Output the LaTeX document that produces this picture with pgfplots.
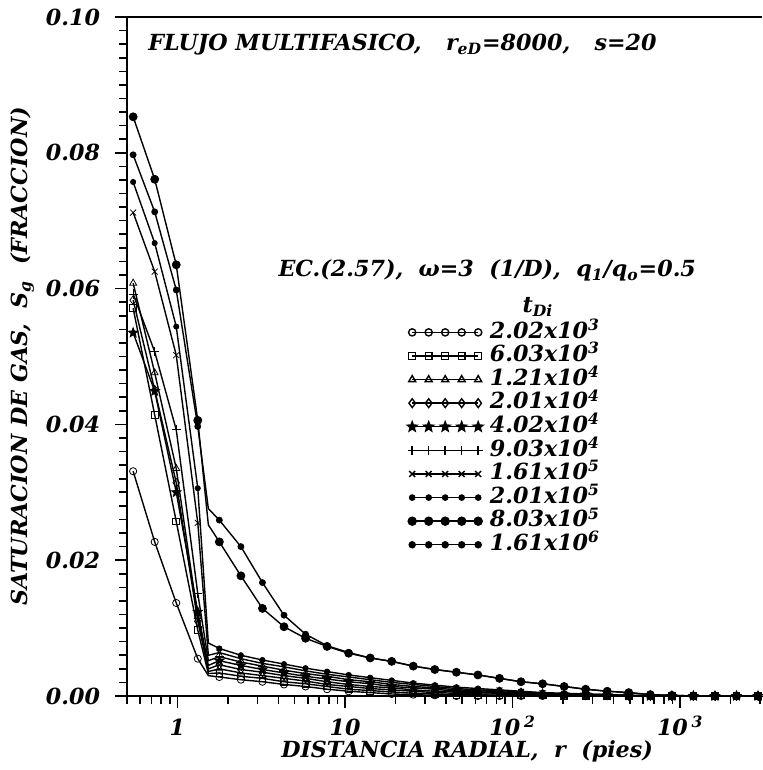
\documentclass[border=0pt]{standalone}
\usepackage{fontspec}
\setmainfont{DejaVu Serif}
\usepackage{pgfplots}
\pgfplotsset{compat=1.18}
\usepackage{pgfplotstable}

\pgfdeclareplotmark{fstar}{%
 \pgfpathmoveto{\pgfpointpolar{90}{\pgfplotmarksize}}%
 \pgfpathlineto{\pgfpointpolar{126}{0.42\pgfplotmarksize}}%
 \pgfpathlineto{\pgfpointpolar{162}{\pgfplotmarksize}}%
 \pgfpathlineto{\pgfpointpolar{198}{0.42\pgfplotmarksize}}%
 \pgfpathlineto{\pgfpointpolar{234}{\pgfplotmarksize}}%
 \pgfpathlineto{\pgfpointpolar{270}{0.42\pgfplotmarksize}}%
 \pgfpathlineto{\pgfpointpolar{306}{\pgfplotmarksize}}%
 \pgfpathlineto{\pgfpointpolar{342}{0.42\pgfplotmarksize}}%
 \pgfpathlineto{\pgfpointpolar{18}{\pgfplotmarksize}}%
 \pgfpathlineto{\pgfpointpolar{54}{0.42\pgfplotmarksize}}%
 \pgfpathclose
 \pgfusepathqfillstroke}

% 2.02x10^3 (o)
\pgfplotstableread{
r s
0.5441 0.0331
0.7316 0.0227
0.9837 0.0137
1.322 0.0055
1.529 0.0030
1.778 0.0028
2.391 0.0024
3.215 0.0021
4.323 0.0017
5.812 0.0014
7.814 0.0010
10.51 0.0007
14.13 0.0005
18.99 0.0003
25.54 0.0002
34.34 0.0001
46.17 0
62.07 0
83.46 0
112.2 0
150.9 0
202.9 0
272.8 0
366.7 0
493.1 0
662.9 0
891.3 0
1198 0
1611 0
2166 0
2912 0
}\dA
% 6.03x10^3 (square)
\pgfplotstableread{
r s
0.5441 0.0571
0.7316 0.0414
0.9837 0.0257
1.322 0.0097
1.529 0.0033
1.778 0.0034
2.391 0.0029
3.215 0.0026
4.323 0.0021
5.812 0.0018
7.814 0.0014
10.51 0.0010
14.13 0.0008
18.99 0.0006
25.54 0.0004
34.34 0.0003
46.17 0.0002
62.07 0.0002
83.46 0.0001
112.2 0.0001
150.9 0.0001
202.9 0
272.8 0
366.7 0
493.1 0
662.9 0
891.3 0
1198 0
1611 0
2166 0
2912 0
}\dB
% 1.21x10^4 (triangle)
\pgfplotstableread{
r s
0.5441 0.0608
0.7316 0.0476
0.9837 0.0335
1.322 0.0117
1.529 0.0036
1.778 0.0040
2.391 0.0034
3.215 0.0030
4.323 0.0026
5.812 0.0022
7.814 0.0017
10.51 0.0014
14.13 0.0011
18.99 0.0009
25.54 0.0007
34.34 0.0005
46.17 0.0004
62.07 0.0003
83.46 0.0003
112.2 0.0002
150.9 0.0001
202.9 0.0001
272.8 0
366.7 0
493.1 0
662.9 0
891.3 0
1198 0
1611 0
2166 0
2912 0
}\dC
% 2.01x10^4 (diamond)
\pgfplotstableread{
r s
0.5441 0.0583
0.7316 0.0451
0.9837 0.0314
1.322 0.0110
1.529 0.0040
1.778 0.0046
2.391 0.0039
3.215 0.0035
4.323 0.0030
5.812 0.0026
7.814 0.0021
10.51 0.0017
14.13 0.0014
18.99 0.0012
25.54 0.0009
34.34 0.0007
46.17 0.0006
62.07 0.0005
83.46 0.0004
112.2 0.0003
150.9 0.0002
202.9 0.0002
272.8 0.0001
366.7 0.0001
493.1 0
662.9 0
891.3 0
1198 0
1611 0
2166 0
2912 0
}\dD
% 4.02x10^4 (star)
\pgfplotstableread{
r s
0.5441 0.0535
0.7316 0.0449
0.9837 0.0300
1.322 0.0124
1.529 0.0045
1.778 0.0052
2.391 0.0045
3.215 0.0039
4.323 0.0034
5.812 0.0029
7.814 0.0025
10.51 0.0021
14.13 0.0018
18.99 0.0014
25.54 0.0012
34.34 0.0010
46.17 0.0007
62.07 0.0006
83.46 0.0005
112.2 0.0004
150.9 0.0003
202.9 0.0002
272.8 0.0002
366.7 0.0001
493.1 0.0001
662.9 0
891.3 0
1198 0
1611 0
2166 0
2912 0
}\dE
% 9.03x10^4 (plus)
\pgfplotstableread{
r s
0.5441 0.0592
0.7316 0.0507
0.9837 0.0392
1.322 0.0151
1.529 0.0052
1.778 0.0058
2.391 0.0050
3.215 0.0044
4.323 0.0038
5.812 0.0033
7.814 0.0029
10.51 0.0024
14.13 0.0021
18.99 0.0017
25.54 0.0014
34.34 0.0012
46.17 0.0009
62.07 0.0008
83.46 0.0006
112.2 0.0005
150.9 0.0004
202.9 0.0003
272.8 0.0002
366.7 0.0001
493.1 0.0001
662.9 0
891.3 0
1198 0
1611 0
2166 0
2912 0
}\dF
% 1.61x10^5 (x)
\pgfplotstableread{
r s
0.5441 0.0712
0.7316 0.0625
0.9837 0.0502
1.322 0.0255
1.529 0.0060
1.778 0.0064
2.391 0.0055
3.215 0.0048
4.323 0.0043
5.812 0.0037
7.814 0.0032
10.51 0.0028
14.13 0.0024
18.99 0.0020
25.54 0.0017
34.34 0.0014
46.17 0.0011
62.07 0.0009
83.46 0.0008
112.2 0.0006
150.9 0.0004
202.9 0.0003
272.8 0.0003
366.7 0.0002
493.1 0.0001
662.9 0
891.3 0
1198 0
1611 0
2166 0
2912 0
}\dG
% 2.01x10^5 (small dot)
\pgfplotstableread{
r s
0.5441 0.0757
0.7316 0.0667
0.9837 0.0544
1.322 0.0306
1.529 0.0078
1.778 0.0070
2.391 0.0060
3.215 0.0053
4.323 0.0047
5.812 0.0041
7.814 0.0036
10.51 0.0031
14.13 0.0027
18.99 0.0023
25.54 0.0019
34.34 0.0016
46.17 0.0013
62.07 0.0011
83.46 0.0009
112.2 0.0007
150.9 0.0005
202.9 0.0004
272.8 0.0003
366.7 0.0002
493.1 0.0001
662.9 0
891.3 0
1198 0
1611 0
2166 0
2912 0
}\dH
% 8.03x10^5 (big dot)
\pgfplotstableread{
r s
0.5441 0.0853
0.7316 0.0761
0.9837 0.0635
1.322 0.0406
1.529 0.0252
1.778 0.0227
2.391 0.0177
3.215 0.0129
4.323 0.0102
5.812 0.0085
7.814 0.0073
10.51 0.0063
14.13 0.0056
18.99 0.0051
25.54 0.0044
34.34 0.0039
46.17 0.0035
62.07 0.0031
83.46 0.0026
112.2 0.0021
150.9 0.0018
202.9 0.0014
272.8 0.0010
366.7 0.0007
493.1 0.0005
662.9 0.0002
891.3 0.0001
1198 0
1611 0
2166 0
2912 0
}\dI
% 1.61x10^6 (dot)
\pgfplotstableread{
r s
0.5441 0.0797
0.7316 0.0713
0.9837 0.0598
1.322 0.0397
1.529 0.0276
1.778 0.0259
2.391 0.0220
3.215 0.0167
4.323 0.0119
5.812 0.0091
7.814 0.0074
10.51 0.0064
14.13 0.0056
18.99 0.0051
25.54 0.0044
34.34 0.0039
46.17 0.0035
62.07 0.0031
83.46 0.0026
112.2 0.0021
150.9 0.0018
202.9 0.0014
272.8 0.0010
366.7 0.0007
493.1 0.0005
662.9 0.0002
891.3 0.0001
1198 0
1611 0
2166 0
2912 0
}\dJ

\pgfplotsset{
  curve/.style={black, line width=0.7pt, mark=none, forget plot},
  pts/.style={black, only marks, forget plot, skip coords between index={4}{5}},
}

\begin{document}
\begin{tikzpicture}[font=\fontsize{11.1}{13.3}\selectfont\bfseries\itshape]
\begin{axis}[
  at={(0pt,0pt)}, anchor=south west,
  scale only axis, width=317.5pt, height=339.5pt,
  xmode=log, xmin=0.5, xmax=3076, ymin=0, ymax=0.1,
  axis x line*=bottom, axis y line*=left,
  axis line style={-, line width=1.1pt},
  tick align=outside, major tick length=6pt, minor tick length=4pt,
  every tick/.append style={line width=0.8pt, black},
  xtick={1,10,100,1000},
  xticklabels={1,10,{10\,\textsuperscript{2}},{10\,\textsuperscript{3}}},
  xticklabel style={inner sep=0pt, text height=8pt, text depth=0pt, yshift=-5.5pt},
  minor xtick={0.5,0.6,0.7,0.8,0.9,2,3,4,5,6,7,8,9,20,30,40,50,60,70,80,90,200,300,400,500,600,700,800,900,2000,3000},
  ytick={0,0.02,0.04,0.06,0.08,0.1},
  minor y tick num=9,
  scaled y ticks=false,
  yticklabel style={xshift=-4pt, /pgf/number format/.cd, fixed, fixed zerofill, precision=2},
  /pgf/number format/assume math mode=true,
  clip=false,
  xlabel={DISTANCIA RADIAL,\ \ r\ \ (pies)},
  ylabel={SATURACION DE GAS,\ \ S\textsubscript{g}\ \ (FRACCION)},
  x label style={at={(axis description cs:0.5355,-0.0913)}, anchor=base, inner sep=0pt},
  y label style={at={(axis description cs:-0.165,0.5)}, anchor=center},
  legend style={at={(axis description cs:0.441,0.552)}, anchor=north west,
    draw=none, fill=none, inner sep=0pt, row sep=1pt, column sep=3pt,
    nodes={inner sep=0.5pt, text height=7.8pt, text depth=2pt}},
  legend cell align=left,
  legend image code/.code={\draw[#1] plot coordinates {(0pt,0pt) (8.25pt,0pt) (16.5pt,0pt) (24.75pt,0pt) (33pt,0pt)};},
]
\addlegendimage{black, line width=0.7pt, mark=o, mark size=1.8pt}
\addlegendentry{2.02x10\textsuperscript{3}}
\addlegendimage{black, line width=0.7pt, mark=square, mark size=1.7pt}
\addlegendentry{6.03x10\textsuperscript{3}}
\addlegendimage{black, line width=0.7pt, mark=triangle, mark size=2pt}
\addlegendentry{1.21x10\textsuperscript{4}}
\addlegendimage{black, line width=0.7pt, mark=diamond, mark size=2.2pt}
\addlegendentry{2.01x10\textsuperscript{4}}
\addlegendimage{black, line width=0.7pt, mark=fstar, mark size=2.5pt, mark options={fill=black}}
\addlegendentry{4.02x10\textsuperscript{4}}
\addlegendimage{black, line width=0.7pt, mark=+, mark size=2.3pt}
\addlegendentry{9.03x10\textsuperscript{4}}
\addlegendimage{black, line width=0.7pt, mark=x, mark size=2.1pt}
\addlegendentry{1.61x10\textsuperscript{5}}
\addlegendimage{black, line width=0.7pt, mark=*, mark size=1.3pt, mark options={fill=black}}
\addlegendentry{2.01x10\textsuperscript{5}}
\addlegendimage{black, line width=0.7pt, mark=*, mark size=2pt, mark options={fill=black}}
\addlegendentry{8.03x10\textsuperscript{5}}
\addlegendimage{black, line width=0.7pt, mark=*, mark size=1.5pt, mark options={fill=black}}
\addlegendentry{1.61x10\textsuperscript{6}}

\addplot[curve] table {\dA};
\addplot[pts, mark=o, mark size=1.8pt] table {\dA};
\addplot[curve] table {\dB};
\addplot[pts, mark=square, mark size=1.7pt] table {\dB};
\addplot[curve] table {\dC};
\addplot[pts, mark=triangle, mark size=2pt] table {\dC};
\addplot[curve] table {\dD};
\addplot[pts, mark=diamond, mark size=2.2pt] table {\dD};
\addplot[curve] table {\dE};
\addplot[pts, mark=fstar, mark size=2.5pt, mark options={fill=black}] table {\dE};
\addplot[curve] table {\dF};
\addplot[pts, mark=+, mark size=2.3pt] table {\dF};
\addplot[curve] table {\dG};
\addplot[pts, mark=x, mark size=2.1pt] table {\dG};
\addplot[curve] table {\dH};
\addplot[pts, mark=*, mark size=1.3pt, mark options={fill=black}] table {\dH};
\addplot[curve] table {\dI};
\addplot[pts, mark=*, mark size=2pt, mark options={fill=black}] table {\dI};
\addplot[curve] table {\dJ};
\addplot[pts, mark=*, mark size=1.5pt, mark options={fill=black}] table {\dJ};

\draw[line width=1.1pt] (rel axis cs:0,1) -- (rel axis cs:1,1);
\node[anchor=base west, inner sep=0pt] at (rel axis cs:0.033,0.951)
  {FLUJO MULTIFASICO,\hspace{1.1em}r\textsubscript{eD}=8000,\hspace{1.1em}s=20};
\node[anchor=base west, inner sep=0pt] at (rel axis cs:0.238,0.6175)
  {EC.(2.57),\ \ ω=3\ \ (1/D),\ \ q\textsubscript{1}/q\textsubscript{o}=0.5};
\node[anchor=base, inner sep=0pt] at (rel axis cs:0.647,0.5655) {t\textsubscript{Di}};
\end{axis}
\pgfresetboundingbox
\path[use as bounding box] (-63.5pt,-37pt) rectangle (317.5pt,348pt);
\end{tikzpicture}
\end{document}
